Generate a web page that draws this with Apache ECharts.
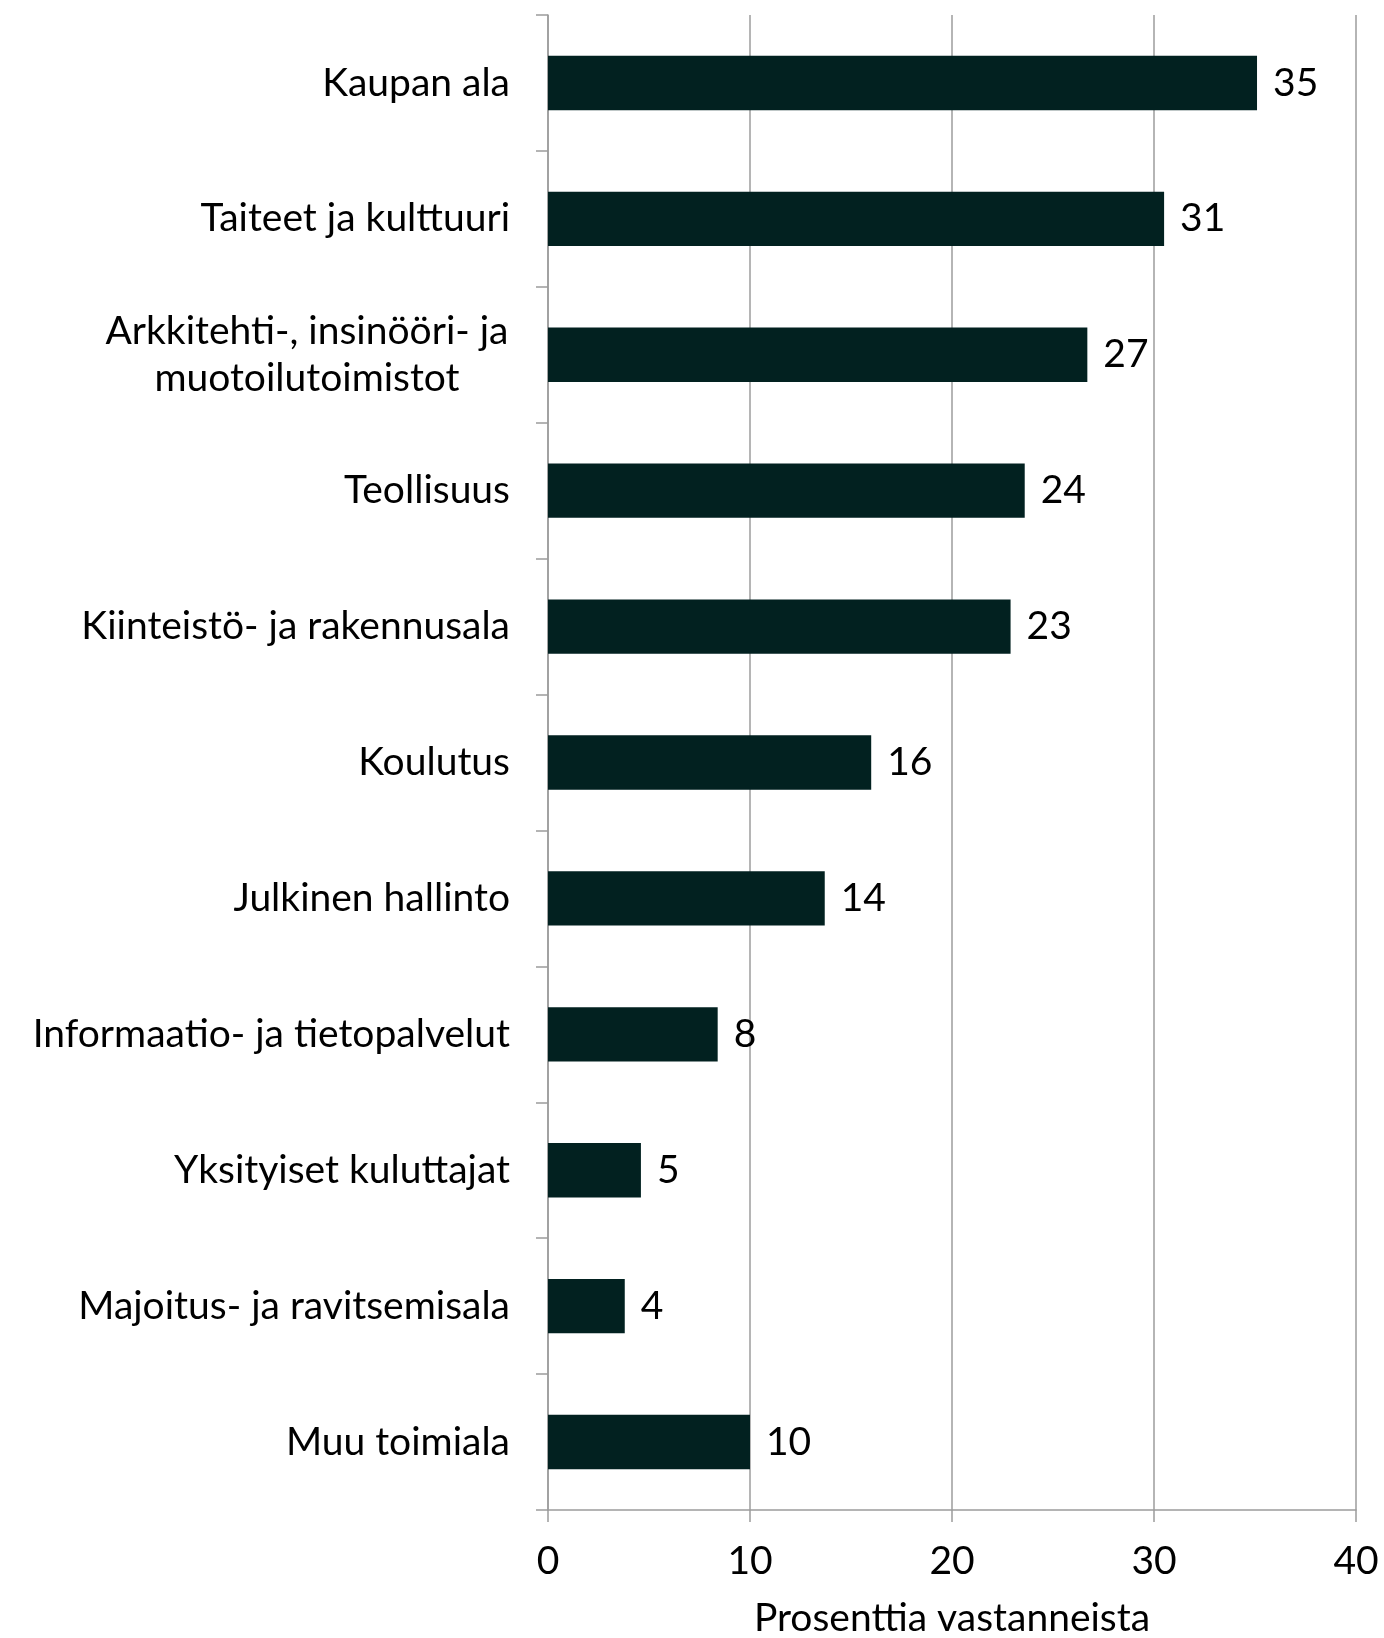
<!DOCTYPE html>
<html>
<head>
<meta charset="utf-8">
<script src="https://cdn.jsdelivr.net/npm/echarts@6/dist/echarts.min.js"></script>
<style>
  html, body { margin: 0; padding: 0; background: #fff; }
  #chart { width: 1384px; height: 1638px; }
</style>
</head>
<body>
<div id="chart"></div>
<script>
// toimialat ylhäältä alas
const categories = [
  'Kaupan ala',
  'Taiteet ja kulttuuri',
  'Arkkitehti-, insinööri- ja\nmuotoilutoimistot',
  'Teollisuus',
  'Kiinteistö- ja rakennusala',
  'Koulutus',
  'Julkinen hallinto',
  'Informaatio- ja tietopalvelut',
  'Yksityiset kuluttajat',
  'Majoitus- ja ravitsemisala',
  'Muu toimiala'
];
const values = [35.1, 30.5, 26.7, 23.6, 22.9, 16.0, 13.7, 8.4, 4.6, 3.8, 10.0];
const xTicks = [0, 10, 20, 30, 40];

const FONT = 'Lato';
const FS = 39;
const GREY = '#9c9c9c';

const chart = echarts.init(document.getElementById('chart'));

chart.setOption({
  animation: false,
  textStyle: { fontFamily: FONT },
  grid: { left: 548, right: 28, top: 15, bottom: 128, outerBoundsMode: 'none' },
  xAxis: {
    type: 'value',
    min: xTicks[0],
    max: xTicks[xTicks.length - 1],
    interval: xTicks[1] - xTicks[0],
    name: 'Prosenttia vastanneista',
    nameLocation: 'middle',
    nameGap: 89,
    nameTextStyle: { fontSize: FS, color: '#000', fontFamily: FONT },
    axisLine: { show: true, lineStyle: { color: GREY, width: 1.5 } },
    axisTick: { show: true, length: 12, lineStyle: { color: GREY, width: 1.5 } },
    axisLabel: { fontSize: FS, color: '#000', margin: 32, fontFamily: FONT },
    splitLine: { show: true, lineStyle: { color: GREY, width: 1.5 } }
  },
  yAxis: {
    type: 'category',
    inverse: true,
    data: categories,
    axisLine: { show: true, lineStyle: { color: GREY, width: 1.5 } },
    axisTick: { show: true, length: 12, interval: 0, lineStyle: { color: GREY, width: 1.5 } },
    axisLabel: {
      interval: 0,
      margin: 38,
      fontSize: FS,
      color: '#000',
      fontFamily: FONT,
      lineHeight: 47,
      formatter: function (v) {
        if (v.indexOf('\n') < 0) return v;
        // kaksirivinen otsikko keskitetään
        return v.split('\n').map(function (s) { return '{c|' + s + '}'; }).join('\n');
      },
      rich: {
        c: { width: 406, align: 'center', fontSize: FS, lineHeight: 47, color: '#000', fontFamily: FONT }
      }
    }
  },
  series: [{
    type: 'bar',
    data: values,
    barCategoryGap: '60%',
    itemStyle: { color: '#022120' },
    label: {
      show: true,
      position: 'right',
      distance: 16,
      fontSize: FS,
      color: '#000',
      fontFamily: FONT,
      formatter: function (p) { return Math.round(p.value); }
    }
  }]
});
</script>
</body>
</html>
